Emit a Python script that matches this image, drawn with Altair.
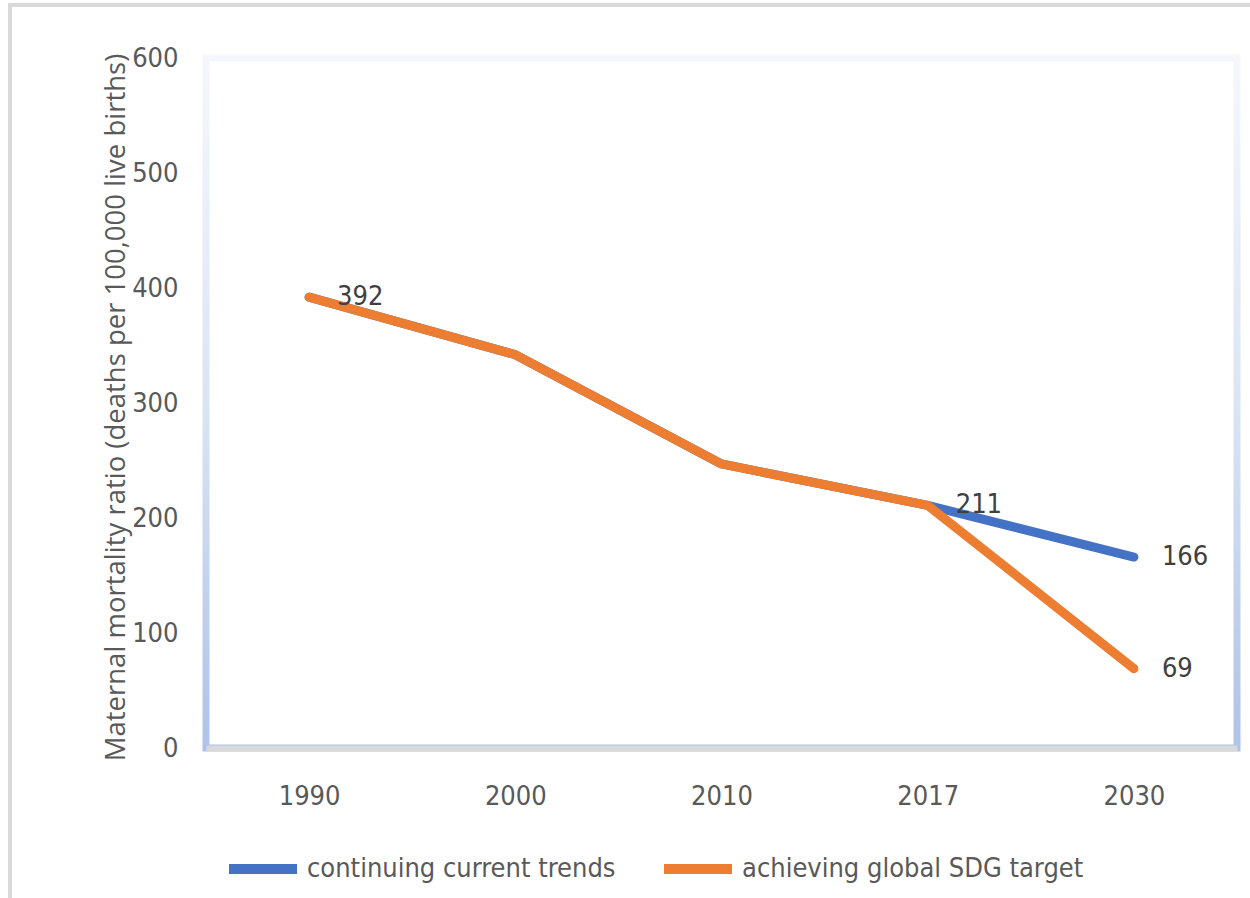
import altair as alt
import pandas as pd

# Maternal mortality ratio projections
years = ["1990", "2000", "2010", "2017", "2030"]
current_trends = [392, 342, 247, 211, 166]
sdg_target = [392, 342, 247, 211, 69]
series_names = ["continuing current trends", "achieving global SDG target"]
series_colors = ["#4472C4", "#ED7D31"]
# points that carry a value label: (series index, year)
labelled_points = [(1, "1990"), (0, "2017"), (0, "2030"), (1, "2030")]
y_ticks = [0, 100, 200, 300, 400, 500, 600]
y_title = "Maternal mortality ratio (deaths per 100,000 live births)"

rows = []
for idx, values in enumerate([current_trends, sdg_target]):
    for yr, v in zip(years, values):
        rows.append({"year": yr, "mmr": v, "series": series_names[idx], "sidx": idx})
df = pd.DataFrame(rows)
labels_df = df[[(s, y) in labelled_points for s, y in zip(df["sidx"], df["year"])]]

W, H = 1031, 690
NARROW = "DejaVu Sans Condensed, sans-serif"
FS = 27
GREY = "#595959"

x_enc = alt.X(
    "year:O",
    sort=years,
    scale=alt.Scale(type="point", padding=0.5),
    axis=alt.Axis(
        title=None,
        labelAngle=0,
        ticks=False,
        grid=False,
        domainColor="#d9d9d9",
        domainWidth=6,
        labelPadding=35,
        labelFont=NARROW,
        labelFontSize=FS,
        labelColor=GREY,
        zindex=2,
    ),
)
y_enc = alt.Y(
    "mmr:Q",
    scale=alt.Scale(domain=[0, 600], nice=False),
    axis=alt.Axis(
        values=y_ticks,
        title=y_title,
        grid=False,
        ticks=False,
        domain=False,
        labelPadding=28,
        labelFont=NARROW,
        labelFontSize=FS,
        labelColor=GREY,
        titleFont="Open Sans",
        titleFontSize=27.5,
        titleFontWeight="normal",
        titleColor=GREY,
        titleX=-90,
        titleY=349,
        titleAngle=-90,
        titleAlign="center",
        titleBaseline="middle",
    ),
)
color_enc = alt.Color(
    "series:N",
    scale=alt.Scale(domain=series_names, range=series_colors),
    legend=alt.Legend(
        orient="none",
        legendX=18,
        legendY=772,
        direction="horizontal",
        columns=2,
        title=None,
        symbolType="stroke",
        symbolSize=4624,
        symbolStrokeWidth=10,
        labelFont=NARROW,
        labelFontSize=FS,
        labelColor=GREY,
        labelOffset=5,
        labelLimit=0,
        columnPadding=28,
    ),
)

one = pd.DataFrame({"k": [0]})

# outer chart border
outer = alt.Chart(one).mark_rect(
    filled=False, stroke="#d9d9d9", strokeWidth=4
).encode(
    x=alt.value(-196), x2=alt.value(1070), y=alt.value(-53), y2=alt.value(870)
)

# plot-area frame with a soft blue vertical gradient
frame = alt.Chart(one).mark_rect(
    filled=False,
    strokeWidth=7,
    stroke=alt.Gradient(
        gradient="linear",
        x1=0, x2=0, y1=0, y2=1,
        stops=[
            alt.GradientStop(color="#f5f7fc", offset=0),
            alt.GradientStop(color="#dbe4f4", offset=0.5),
            alt.GradientStop(color="#aec3e7", offset=1),
        ],
    ),
).encode(x=alt.value(0), x2=alt.value(W), y=alt.value(0), y2=alt.value(H))

line_style = dict(strokeWidth=9, strokeCap="round", strokeJoin="round")
blue = alt.Chart(df).transform_filter(alt.datum.sidx == 0).mark_line(**line_style).encode(
    x=x_enc, y=y_enc, color=color_enc
)
orange = alt.Chart(df).transform_filter(alt.datum.sidx == 1).mark_line(**line_style).encode(
    x=x_enc, y=y_enc, color=color_enc
)
labels = alt.Chart(labels_df).mark_text(
    align="left", baseline="middle", dx=28, font=NARROW, fontSize=FS, color="#404040"
).encode(x=alt.X("year:O", sort=years), y="mmr:Q", text="mmr:Q")

chart = alt.layer(outer, frame, blue, orange, labels).properties(
    width=W,
    height=H,
    autosize=alt.AutoSizeParams(type="none"),
    padding={"left": 206, "top": 58, "right": 13, "bottom": 150},
).configure_view(stroke=None)

chart.save("out.html", embed_options={"renderer": "svg", "actions": False})
